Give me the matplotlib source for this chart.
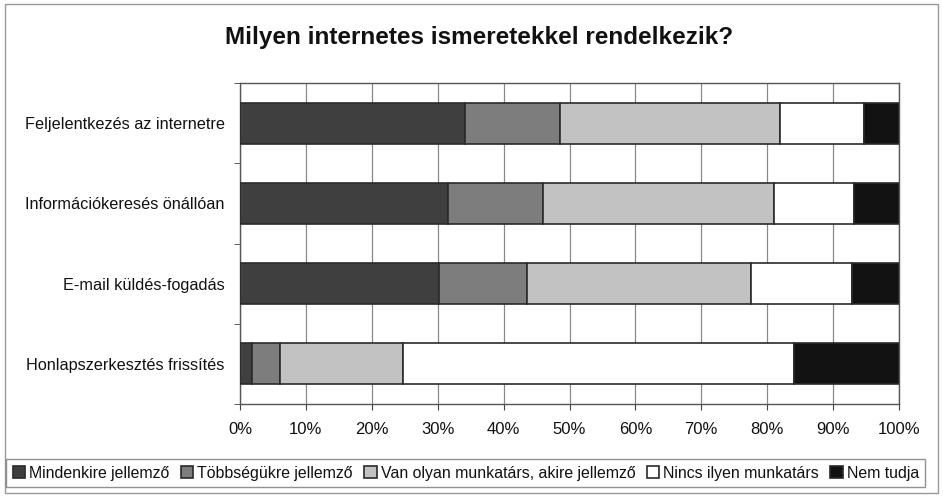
import numpy as np
import matplotlib
matplotlib.use("Agg")
import matplotlib.pyplot as plt
from matplotlib.patches import Rectangle

plt.rcParams['font.family'] = ['Liberation Sans', 'DejaVu Sans']

# Data (percent)
categories = ["Feljelentkezés az internetre", "Információkeresés önállóan",
              "E-mail küldés-fogadás", "Honlapszerkesztés frissítés"]
series_names = ["Mindenkire jellemző", "Többségükre jellemző",
                "Van olyan munkatárs, akire jellemző", "Nincs ilyen munkatárs", "Nem tudja"]
mindenkire = [34.1, 31.6, 30.2, 1.8]
tobbsegukre = [14.4, 14.4, 13.4, 4.2]
van_olyan = [33.5, 35.1, 34.0, 18.7]
nincs = [12.7, 12.1, 15.3, 59.3]
nem_tudja = [5.3, 6.8, 7.1, 16.0]
series_values = [mindenkire, tobbsegukre, van_olyan, nincs, nem_tudja]
colors = ["#3f3f3f", "#7d7d7d", "#c2c2c2", "#ffffff", "#121212"]

fig = plt.figure(figsize=(9.43, 4.96), dpi=100)
ax = fig.add_axes([240/943, 1-404/496, 659/943, 321/496])

y = np.arange(len(categories))
left = np.zeros(len(categories))
for name, vals, c in zip(series_names, series_values, colors):
    vals = np.array(vals)
    ax.barh(y, vals, left=left, height=0.51, color=c, edgecolor="#2a2a2a",
            linewidth=1.2, label=name, zorder=3)
    left += vals

ax.set_xlim(0, 100)
ax.set_ylim(3.5, -0.5)
ax.set_xticks(np.arange(0, 101, 10))
ax.set_xticklabels([f"{v}%" for v in range(0, 101, 10)], fontsize=12, color="#111111")
ax.set_yticks(y)
ax.set_yticklabels(categories, fontsize=11.7, color="#111111")
ax.tick_params(axis='y', length=0, pad=11)
ax.set_yticks(np.arange(-0.5, 4, 1), minor=True)
ax.tick_params(axis='y', which='minor', length=4, color="#444444")
ax.tick_params(axis='x', length=4, color="#444444", pad=9)
ax.xaxis.grid(True, color="#8a8a8a", linewidth=0.9, zorder=0)
for s in ax.spines.values():
    s.set_color("#555555")
    s.set_linewidth(1.0)

fig.text(0.508, 0.925, "Milyen internetes ismeretekkel rendelkezik?",
         ha='center', va='center', fontsize=17.5, fontweight='bold', color="#111111")

leg = fig.legend(loc='center', bbox_to_anchor=(0.494, 0.046), ncol=5, fontsize=11.4,
                 frameon=True, fancybox=False, edgecolor="#777777",
                 handlelength=0.8, handleheight=0.8, handletextpad=0.25,
                 columnspacing=0.7, borderpad=0.4)
for t in leg.get_texts():
    t.set_color("#111111")
for h in leg.legend_handles:
    h.set_edgecolor("#2a2a2a")

# outer chart border
fig.patches.append(Rectangle((0.005, 0.006), 0.99, 0.985, transform=fig.transFigure,
                             fill=False, edgecolor="#999999", linewidth=1.0))

fig.savefig("out.png", dpi=100)
